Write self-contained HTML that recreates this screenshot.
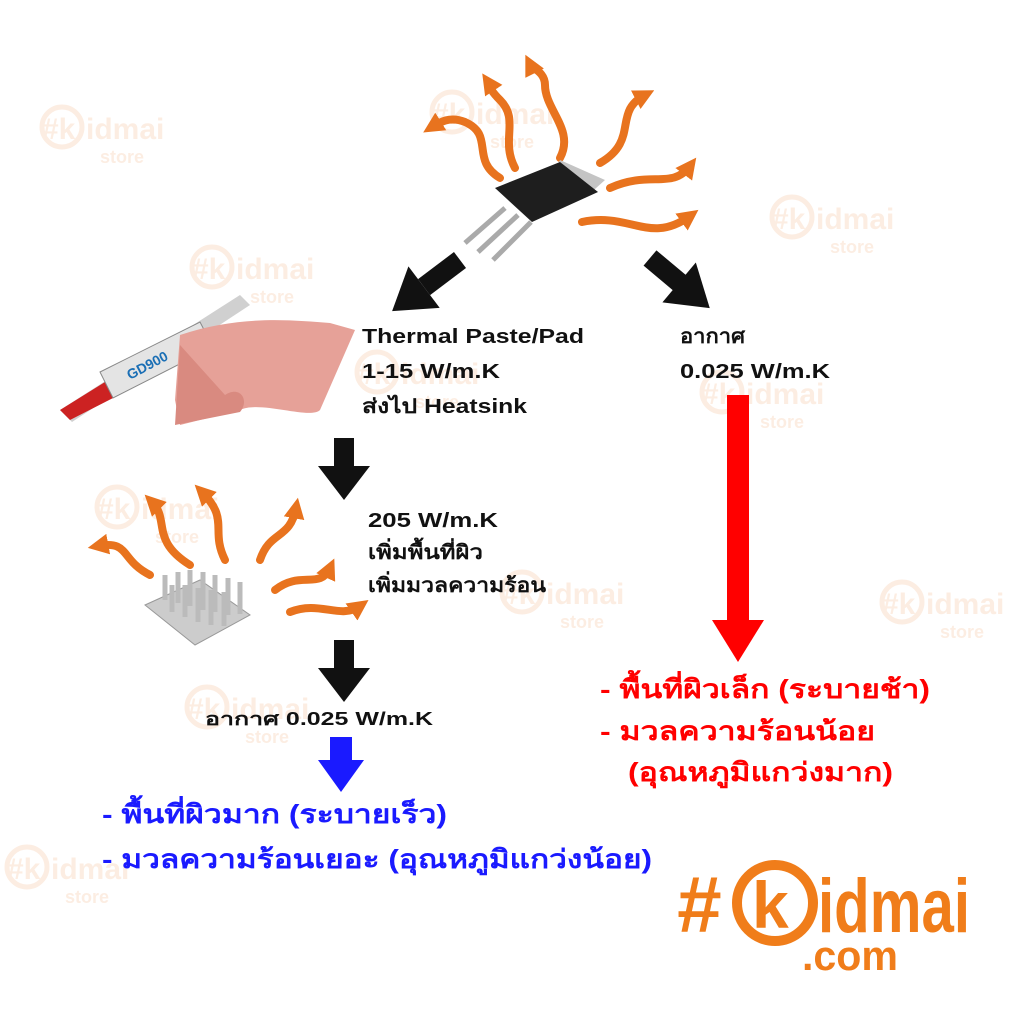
<!DOCTYPE html>
<html><head><meta charset="utf-8"><style>
body{margin:0;background:#fff;width:1024px;height:1024px;overflow:hidden}
svg{display:block}
text{font-family:"Liberation Sans","DejaVu Sans",sans-serif}
</style></head><body>
<svg width="1024" height="1024" viewBox="0 0 1024 1024" xmlns="http://www.w3.org/2000/svg">
<defs>
<marker id="oa" markerWidth="2.6" markerHeight="2.6" refX="1.3" refY="1.3" orient="auto" markerUnits="strokeWidth"><path d="M0,0 L2.6,1.3 L0,2.6 Z" fill="#e8731e"/></marker>
<g id="wm" opacity="0.12" fill="#e8731e">
<circle cx="22" cy="22" r="20" fill="none" stroke="#e8731e" stroke-width="5"/>
<text x="2" y="34" font-size="30" font-weight="bold">#k</text>
<text x="46" y="34" font-size="30" font-weight="bold">idmai</text>
<text x="60" y="58" font-size="18" font-weight="bold">store</text>
</g>
</defs>
<rect width="1024" height="1024" fill="#fff"/>
<use href="#wm" x="40" y="105"/>
<use href="#wm" x="430" y="90"/>
<use href="#wm" x="770" y="195"/>
<use href="#wm" x="190" y="245"/>
<use href="#wm" x="700" y="370"/>
<use href="#wm" x="95" y="485"/>
<use href="#wm" x="500" y="570"/>
<use href="#wm" x="880" y="580"/>
<use href="#wm" x="185" y="685"/>
<use href="#wm" x="5" y="845"/>
<use href="#wm" x="355" y="350"/>

<g fill="none" stroke="#e8731e" stroke-width="8" stroke-linecap="round" marker-end="url(#oa)">
<path d="M500,178 C470,160 495,135 465,122 C450,116 440,122 432,127"/>
<path d="M515,168 C500,140 520,120 500,100 C488,88 490,85 488,82"/>
<path d="M560,158 C575,130 545,110 545,85 C545,72 532,68 530,64"/>
<path d="M600,163 C640,140 612,112 645,95"/>
<path d="M610,188 C650,170 672,190 690,166"/>
<path d="M582,222 C630,212 650,245 690,216"/>
</g>
<g>
<polygon points="560,160 605,180 585,198 548,182" fill="#c4c4c4"/>
<polygon points="495,188 560,162 598,192 532,222" fill="#1e1e1e"/>
<line x1="505" y1="208" x2="465" y2="243" stroke="#aaa" stroke-width="5"/>
<line x1="518" y1="215" x2="478" y2="252" stroke="#aaa" stroke-width="5"/>
<line x1="531" y1="222" x2="493" y2="260" stroke="#aaa" stroke-width="5"/>
</g>
<g fill="#111">
<g transform="translate(460,260) rotate(143)"><rect x="0" y="-10" width="45" height="20"/><polygon points="45,-26 45,26 85,0"/></g>
<g transform="translate(650,258) rotate(40)"><rect x="0" y="-10" width="40" height="20"/><polygon points="38,-26 38,26 78,0"/></g>
<rect x="334" y="438" width="20" height="30"/><polygon points="318,466 370,466 344,500"/>
<rect x="334" y="640" width="20" height="30"/><polygon points="318,668 370,668 344,702"/>
</g>
<rect x="727" y="395" width="22" height="230" fill="#f00"/>
<polygon points="712,620 764,620 738,662" fill="#f00"/>
<rect x="330" y="737" width="22" height="25" fill="#1a1aff"/>
<polygon points="318,760 364,760 341,792" fill="#1a1aff"/>

<g>
<polygon points="60,410 240,295 250,305 72,422" fill="#d0d0d0"/>
<polygon points="60,410 105,382 115,397 70,420" fill="#c22"/>
<polygon points="100,372 200,322 213,347 113,398" fill="#e4e4e4" stroke="#888"/>
<text x="130" y="380" font-size="14" fill="#1b6fb5" font-weight="bold" transform="rotate(-28 130 380)">GD900</text>
<path d="M180,335 C240,315 290,320 330,323 L355,330 L320,410 C310,420 260,400 240,410 L180,425 L175,400 Z" fill="#e6a198"/>
<path d="M180,345 L175,425 L240,412 C250,400 240,385 225,395" fill="#d98a80"/>
</g>

<g fill="none" stroke="#e8731e" stroke-width="8" stroke-linecap="round" marker-end="url(#oa)">
<path d="M150,575 C120,560 130,540 98,546"/>
<path d="M190,565 C150,540 170,520 152,502"/>
<path d="M225,560 C210,530 230,520 202,492"/>
<path d="M260,560 C270,530 290,540 296,508"/>
<path d="M275,590 C300,570 320,590 330,568"/>
<path d="M290,612 C320,600 340,620 360,606"/>
</g>
<g>
<polygon points="145,605 200,580 250,615 195,645" fill="#ccc" stroke="#999"/>
<g stroke="#bbb" stroke-width="5">
<line x1="165" y1="600" x2="165" y2="575"/><line x1="178" y1="603" x2="178" y2="572"/><line x1="190" y1="606" x2="190" y2="570"/><line x1="203" y1="610" x2="203" y2="572"/><line x1="215" y1="612" x2="215" y2="575"/><line x1="228" y1="615" x2="228" y2="578"/><line x1="240" y1="614" x2="240" y2="582"/>
<line x1="172" y1="612" x2="172" y2="585"/><line x1="185" y1="617" x2="185" y2="585"/><line x1="198" y1="622" x2="198" y2="588"/><line x1="211" y1="625" x2="211" y2="590"/><line x1="224" y1="626" x2="224" y2="592"/>
</g>
</g>

<g font-size="20" fill="#111" font-weight="bold">
<text x="362" y="343" textLength="222" lengthAdjust="spacingAndGlyphs">Thermal Paste/Pad</text>
<text x="362" y="378" textLength="138" lengthAdjust="spacingAndGlyphs">1-15 W/m.K</text>
<text x="362" y="413" textLength="165" lengthAdjust="spacingAndGlyphs">ส่งไป Heatsink</text>
<text x="680" y="343" textLength="65" lengthAdjust="spacingAndGlyphs">อากาศ</text>
<text x="680" y="378" textLength="150" lengthAdjust="spacingAndGlyphs">0.025 W/m.K</text>
<text x="368" y="527" textLength="130" lengthAdjust="spacingAndGlyphs">205 W/m.K</text>
<text x="368" y="559" textLength="115" lengthAdjust="spacingAndGlyphs">เพิ่มพื้นที่ผิว</text>
<text x="368" y="592" textLength="178" lengthAdjust="spacingAndGlyphs">เพิ่มมวลความร้อน</text>
<text x="205" y="725" font-size="18" textLength="228" lengthAdjust="spacingAndGlyphs">อากาศ 0.025 W/m.K</text>
</g>
<g font-size="26" font-weight="bold" fill="#f00">
<text x="600" y="698" textLength="330" lengthAdjust="spacingAndGlyphs">- พื้นที่ผิวเล็ก (ระบายช้า)</text>
<text x="600" y="740" textLength="275" lengthAdjust="spacingAndGlyphs">- มวลความร้อนน้อย</text>
<text x="628" y="781" textLength="265" lengthAdjust="spacingAndGlyphs">(อุณหภูมิแกว่งมาก)</text>
</g>
<g font-size="26" font-weight="bold" fill="#1a1aff">
<text x="102" y="823" textLength="345" lengthAdjust="spacingAndGlyphs">- พื้นที่ผิวมาก (ระบายเร็ว)</text>
<text x="102" y="868" textLength="550" lengthAdjust="spacingAndGlyphs">- มวลความร้อนเยอะ (อุณหภูมิแกว่งน้อย)</text>
</g>

<g fill="#f07d1a" font-weight="bold">
<text x="676" y="932" font-size="80" font-style="italic">#</text>
<circle cx="775" cy="903" r="38" fill="none" stroke="#f07d1a" stroke-width="10"/>
<text x="752" y="928" font-size="66">k</text>
<text x="818" y="932" font-size="76" textLength="152" lengthAdjust="spacingAndGlyphs">idmai</text>
<text x="802" y="970" font-size="42" textLength="96" lengthAdjust="spacingAndGlyphs">.com</text>
</g>
</svg>
</body></html>
